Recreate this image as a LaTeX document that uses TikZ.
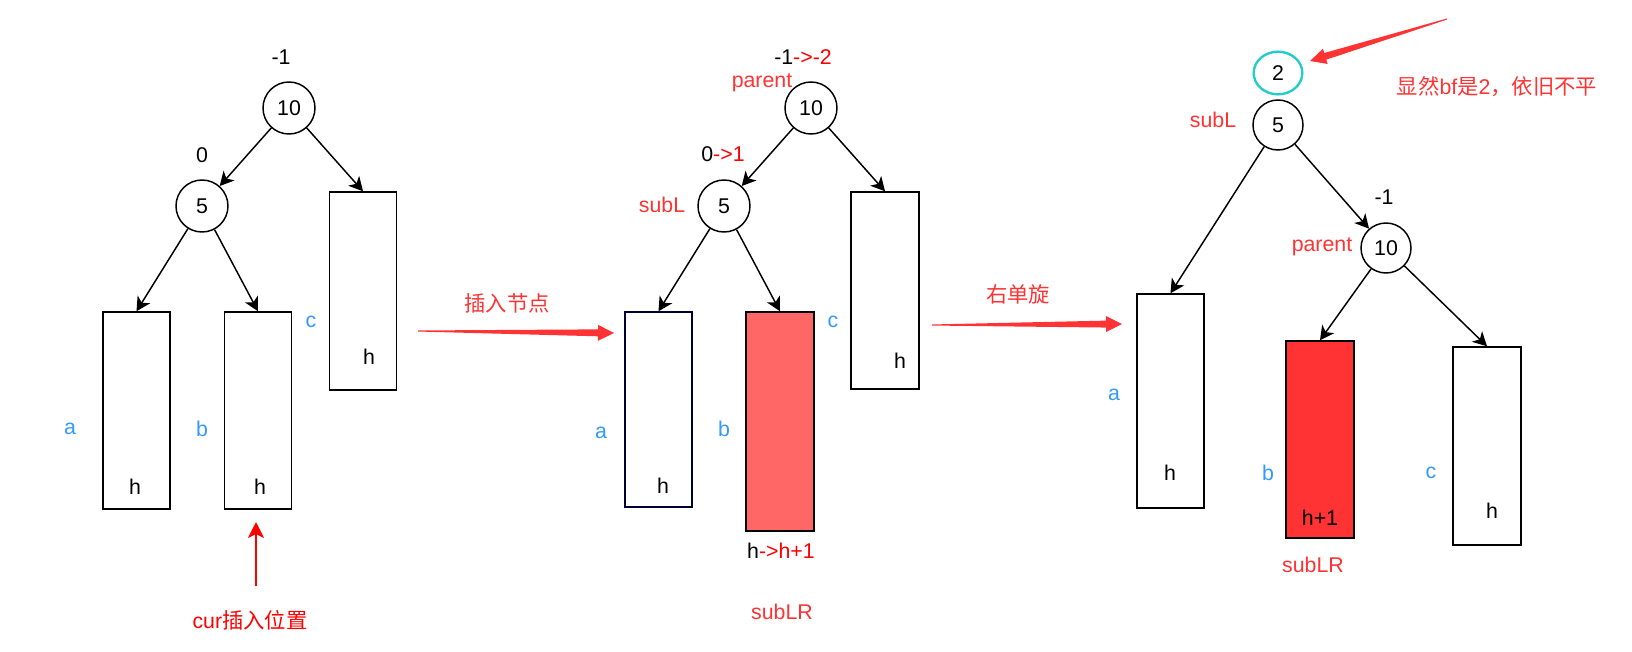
\documentclass[tikz,border=0pt]{standalone}
\usepackage{fontspec}
\setmainfont{Liberation Sans}
\newfontfamily\cjk{Noto Sans CJK SC}
\usetikzlibrary{calc, arrows.meta, shapes.geometric}

\definecolor{tred}{RGB}{255,51,51}
\definecolor{pred}{RGB}{255,0,0}
\definecolor{lblue}{RGB}{51,153,255}
\definecolor{pinkfill}{RGB}{255,102,102}
\definecolor{tcyan}{RGB}{38,204,204}
\definecolor{navyline}{RGB}{0,0,51}

\begin{document}
\begin{tikzpicture}[x=0.75pt, y=-0.75pt,
    every node/.style={font=\fontsize{16pt}{18pt}\selectfont, inner sep=0pt},
    treenode/.style={draw, circle, line width=1.1pt, minimum size=39pt},
    subtree/.style={draw, line width=1.1pt, minimum width=50.5pt},
    sidelab/.style={text=lblue},
    note/.style={text=tred},
    link/.style={line width=1.1pt, -{Stealth[length=10.5pt, width=11pt, inset=3pt]}}]
    \useasboundingbox (0,0) rectangle (1632,651);

    % before insertion
    \node (bf10) at (281,57) {-1};
    \node[treenode] (n10) at (289,108) {10};
    \node (bf5) at (202,155) {0};
    \node[treenode] (n5) at (202,206) {5};
    \node[subtree, minimum height=147.75pt] (ta) at (136.5,410.5) {};
    \node[subtree, minimum height=147.75pt] (tb) at (258,410.5) {};
    \node[subtree, minimum height=148.5pt] (tc) at (363,291) {};
    \node[sidelab] (la) at (70,429) {a};
    \node[sidelab] (lb) at (202,429) {b};
    \node[sidelab] (lc) at (311,322) {c};
    \node (ha) at (135,487) {h};
    \node (hb) at (260,487) {h};
    \node (hc) at (369,357) {h};
    \node[text=pred] (cur) at (250,620) {cur{\cjk 插入位置}};
    \coordinate (cur1) at (256,586);
    \coordinate (cur2) at (256,522);

    \draw[link] (n10) -- (n5);
    \draw[link] (n10) -- (tc.north);
    \draw[link] (n5) -- (ta.north);
    \draw[link] (n5) -- (tb.north);
    \draw[pred, line width=1.1pt, -{Stealth[length=12pt, width=12pt, inset=3pt]}] (cur1) -- (cur2);

    % after insertion
    \node (mbf10) at (803,57) {-1\textcolor{pred}{->-2}};
    \node[note] (mpar) at (762,83) {parent};
    \node[treenode] (m10) at (811,108) {10};
    \node (mbf5) at (723,154) {0\textcolor{pred}{->1}};
    \node[note] (msubl) at (662,205) {subL};
    \node[treenode] (m5) at (724,206) {5};
    \node[subtree, draw=navyline, minimum height=146.25pt] (ma) at (658.5,409.5) {};
    \node[subtree, fill=pinkfill, minimum width=51pt, minimum height=164.25pt] (mb) at (780,421.5) {};
    \node[subtree, minimum width=51pt, minimum height=147.75pt] (mc) at (885,290.5) {};
    \node[sidelab] (mla) at (601,433) {a};
    \node[sidelab] (mlb) at (724,429) {b};
    \node[sidelab] (mlc) at (833,322) {c};
    \node (mha) at (663,486) {h};
    \node (mhc) at (900,361) {h};
    \node (mhb) at (781,551) {h\textcolor{pred}{->h+1}};
    \node[note] (msublr) at (782,612) {subLR};

    \draw[link] (m10) -- (m5);
    \draw[link] (m10) -- (mc.north);
    \draw[link] (m5) -- (ma.north);
    \draw[link] (m5) -- (mb.north);

    \node[note] (ins) at (507,303) {\cjk 插入节点};
    \coordinate (ins1) at (418,331);
    \coordinate (ins2) at (614,333);

    % after right rotation
    \node[draw=tcyan, line width=1.8pt, ellipse, minimum width=36.5pt, minimum height=32pt] (r2) at (1278,73) {2};
    \node[note] (rsubl) at (1213,120) {subL};
    \node[treenode, minimum size=37.5pt] (r5) at (1278,125) {5};
    \node (rbf10) at (1384,197) {-1};
    \node[note] (rpar) at (1322,247) {parent};
    \node[treenode, minimum size=37.5pt] (r10) at (1386,248) {10};
    \node[subtree, minimum height=160.5pt] (ra) at (1170.5,401) {};
    \node[subtree, fill=tred, minimum width=51pt, minimum height=147.75pt] (rb) at (1320,439.5) {};
    \node[subtree, minimum width=51pt, minimum height=148.5pt] (rc) at (1487,446) {};
    \node[sidelab] (rla) at (1114,395) {a};
    \node[sidelab] (rlb) at (1268,473) {b};
    \node[sidelab] (rlc) at (1431,473) {c};
    \node (rha) at (1170,473) {h};
    \node (rhb) at (1320,518) {h+1};
    \node (rhc) at (1492,511) {h};
    \node[note] (rsublr) at (1313,565) {subLR};
    \node[note] (rnote) at (1497,87) {{\cjk 显然}bf{\cjk 是}2{\cjk ，依旧不平}};

    \draw[link] (r5) -- (ra.north);
    \draw[link] (r5) -- (r10);
    \draw[link] (r10) -- (rb.north);
    \draw[link] (r10) -- (rc.north);

    \node[note] (rot) at (1018,294) {\cjk 右单旋};
    \coordinate (rot1) at (932,325);
    \coordinate (rot2) at (1122,324);
    \coordinate (bfa1) at (1447,19);
    \coordinate (bfa2) at (1310,61);

    % fat tapered arrows
    \foreach \s/\e in {ins1/ins2, rot1/rot2, bfa1/bfa2} {
        \path ($(\e)!12pt!(\s)$) coordinate (hbase);
        \fill[tred] ($(\s)!0.4pt!90:(\e)$) -- ($(hbase)!2.6pt!-90:(\s)$)
            -- ($(hbase)!6pt!-90:(\s)$) -- (\e) -- ($(hbase)!6pt!90:(\s)$)
            -- ($(hbase)!2.6pt!90:(\s)$) -- ($(\s)!0.4pt!-90:(\e)$) -- cycle;
    }
\end{tikzpicture}
\end{document}
